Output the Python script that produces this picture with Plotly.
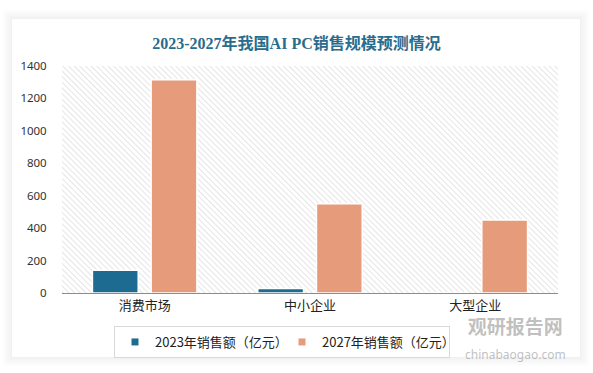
import base64
import plotly.graph_objects as go

# ---- data ----
categories = ["消费市场", "中小企业", "大型企业"]
sales_2023 = [140, 28, 2]
sales_2027 = [1315, 550, 450]
series_names = ["2023年销售额（亿元）", "2027年销售额（亿元）"]
series_colors = ["#1d6b90", "#e69b7b"]
y_ticks = [0, 200, 400, 600, 800, 1000, 1200, 1400]

W, H = 593, 373
L, R, T, B = 62, 35, 66, 80
PW, PH = W - L - R, H - T - B


def xp(px):
    return (px - L) / PW


def yp(py):
    return (H - B - py) / PH


fig = go.Figure()
for vals, name, col in zip([sales_2023, sales_2027], series_names, series_colors):
    fig.add_trace(go.Bar(
        x=categories, y=vals, name=name, showlegend=False, legendgroup=name,
        marker=dict(color=col, line=dict(color="white", width=1.5)),
    ))
# legend entries with small square swatches
for name, col in zip(series_names, series_colors):
    fig.add_trace(go.Scatter(
        x=[None], y=[None], mode="markers", name=name, legendgroup=name,
        marker=dict(symbol="square", size=7, color=col),
    ))

# hatch background as image
svg = (
    f"<svg xmlns='http://www.w3.org/2000/svg' width='{PW}' height='{PH}'>"
    "<defs><pattern id='p' width='4' height='4' patternUnits='userSpaceOnUse' "
    "patternTransform='rotate(-45)'><rect width='4' height='4' fill='white'/>"
    "<line x1='0' y1='0' x2='0' y2='4' stroke='#d8d8d8' stroke-width='1.3'/></pattern></defs>"
    "<rect width='100%' height='100%' fill='url(#p)'/></svg>"
)
src = "data:image/svg+xml;base64," + base64.b64encode(svg.encode()).decode()

# card shadow outlines
shapes = []
cx0, cx1, cy0, cy1 = 12, 580, 19, 357
for k in range(1, 10):
    a = 0.055 * (10 - k) / 9
    shapes.append(dict(
        type="rect", xref="paper", yref="paper", layer="below",
        x0=xp(cx0 - k + 0.5), x1=xp(cx1 + k - 0.5),
        y0=yp(cy1 + k - 0.5), y1=yp(cy0 - k + 0.5),
        line=dict(color=f"rgba(0,0,0,{a:.3f})", width=1),
        fillcolor="rgba(0,0,0,0)",
    ))

fig.update_layout(
    width=W, height=H,
    margin=dict(l=L, r=R, t=T, b=B),
    paper_bgcolor="white",
    plot_bgcolor="rgba(0,0,0,0)",
    barmode="group", bargap=0.29, bargroupgap=0.22,
    font=dict(family="Noto Sans, Noto Sans CJK SC", size=12, color="#333333"),
    title=dict(
        text="<b>2023-2027年我国AI PC销售规模预测情况</b>",
        x=0.5, xref="container", xanchor="center",
        y=1 - 43.5 / H, yref="container", yanchor="middle",
        font=dict(family="Liberation Serif, Noto Sans CJK SC", size=16, color="#2a6c8c"),
    ),
    xaxis=dict(
        showgrid=False, showline=True, linecolor="#8c8c8c", linewidth=1,
        ticks="", tickfont=dict(size=13, family="Noto Sans CJK SC", color="#222222"),
    ),
    yaxis=dict(
        range=[0, 1400], tickvals=y_ticks, showgrid=False, zeroline=False,
        showline=False, ticks="outside", ticklen=12, tickcolor="rgba(0,0,0,0)",
        tickfont=dict(size=11.5, family="Noto Sans", color="#333333"),
    ),
    legend=dict(
        orientation="h", xref="container", yref="container",
        x=114 / W, xanchor="left", y=1 - 326 / H, yanchor="top",
        bordercolor="#d9d9d9", borderwidth=1,
        font=dict(size=13, family="Noto Sans CJK SC", color="#222222"),
        entrywidth=122, traceorder="normal",
        itemwidth=30, tracegroupgap=0,
    ),
    images=[dict(
        source=src, xref="paper", yref="paper", x=0, y=1,
        sizex=1, sizey=1, xanchor="left", yanchor="top",
        sizing="stretch", layer="below",
    )],
    shapes=shapes,
    annotations=[
        dict(text="<b>观研报告网</b><br><span style='font-size:12px;font-family:Noto Sans'>chinabaogao.com</span>",
             xref="paper", yref="paper",
             x=xp(515), y=yp(337), xanchor="center", yanchor="middle",
             showarrow=False, borderpad=0,
             font=dict(size=19, color="rgba(150,150,150,0.6)", family="Noto Sans CJK SC")),
    ],
)

fig.write_html("out.html", post_script="document.body.style.margin='0';",
               config={"displayModeBar": False})
